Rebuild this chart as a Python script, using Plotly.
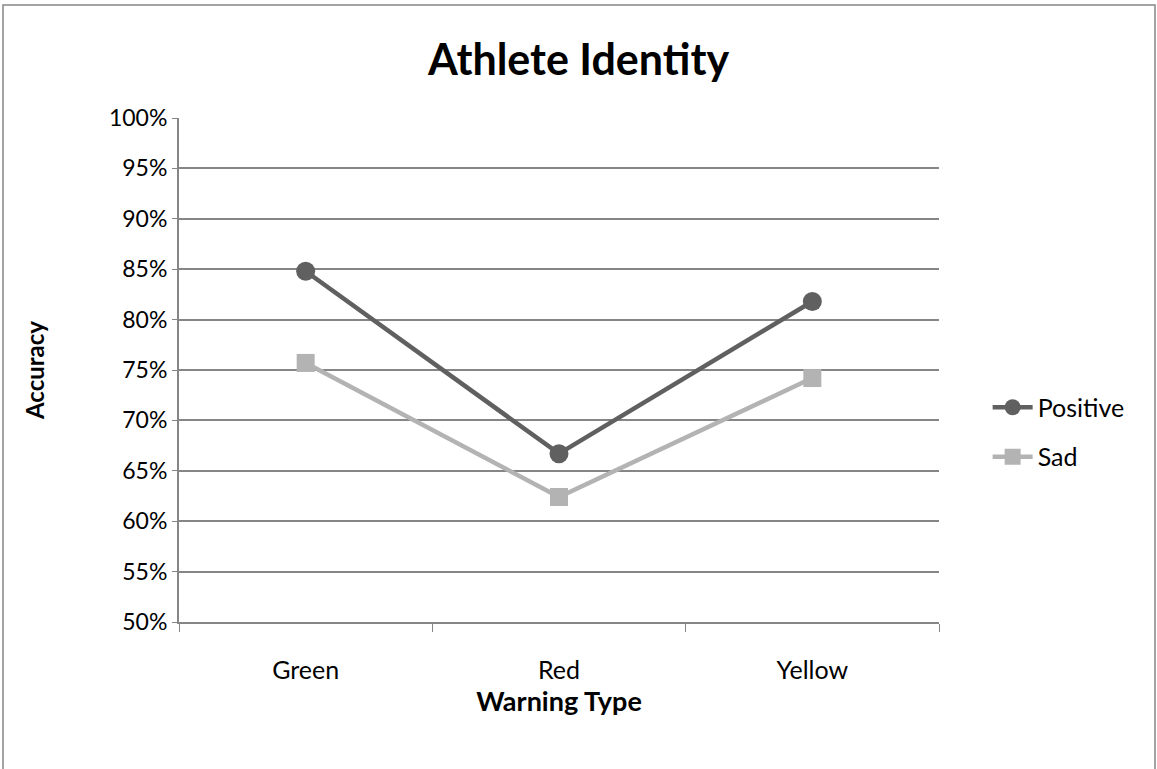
import plotly.graph_objects as go

categories = ["Green", "Red", "Yellow"]
positive = [0.848, 0.667, 0.818]
sad = [0.757, 0.624, 0.742]
y_ticks = [0.50, 0.55, 0.60, 0.65, 0.70, 0.75, 0.80, 0.85, 0.90, 0.95, 1.00]
y_tick_labels = ["50%", "55%", "60%", "65%", "70%", "75%", "80%", "85%", "90%", "95%", "100%"]

FONT = "Lato"
fig = go.Figure()
fig.add_trace(go.Scatter(
    x=categories, y=positive, name="Positive", mode="lines+markers",
    line=dict(color="#606060", width=4.5),
    marker=dict(symbol="circle", size=19, color="#606060"),
    legendgroup="a"))
fig.add_trace(go.Scatter(
    x=categories, y=sad, name="Sad", mode="lines+markers",
    line=dict(color="#b3b3b3", width=4.5),
    marker=dict(symbol="square", size=18, color="#b3b3b3"),
    legendgroup="b"))

fig.update_layout(
    width=1157, height=769,
    paper_bgcolor="white", plot_bgcolor="white",
    margin=dict(l=179, r=218, t=118, b=147),
    font=dict(family=FONT, size=24, color="black"),
    title=dict(text="<b>Athlete Identity</b>", x=0.5, xref="container", xanchor="center",
               y=0.922, yanchor="middle", font=dict(size=43, family=FONT)),
    showlegend=True,
    legend=dict(x=1.064, y=0.377, xanchor="left", yanchor="middle",
                font=dict(size=25), tracegroupgap=14, itemwidth=40,
                bgcolor="rgba(0,0,0,0)"),
    xaxis=dict(
        type="category", range=[-0.5, 2.5], tickson="boundaries",
        showline=True, linecolor="#868686", linewidth=2,
        ticks="outside", ticklen=8, tickcolor="#868686", tickwidth=1,
        showgrid=False, ticklabelstandoff=25,
        tickfont=dict(size=25),
        title=dict(text="<b>Warning Type</b>", standoff=5, font=dict(size=27)),
    ),
    yaxis=dict(
        range=[0.5, 1.0], tickvals=y_ticks, ticktext=y_tick_labels,
        showline=True, linecolor="#868686", linewidth=2,
        ticks="outside", ticklen=5, tickcolor="#868686",
        showgrid=True, gridcolor="#868686", gridwidth=1.5,
        tickfont=dict(size=23), zeroline=False,
        title=dict(text="<b>Accuracy</b>", standoff=58, font=dict(size=24)),
    ),
)

fig.add_shape(type="rect", xref="paper", yref="paper",
              x0=-176/760, x1=(1155-179)/760, y0=-160/504, y1=1 + 113/504,
              line=dict(color="#868686", width=1.5), fillcolor="rgba(0,0,0,0)", layer="below")

fig.write_html("out.html", config={"displayModeBar": False},
               post_script="document.body.style.margin='0';")
